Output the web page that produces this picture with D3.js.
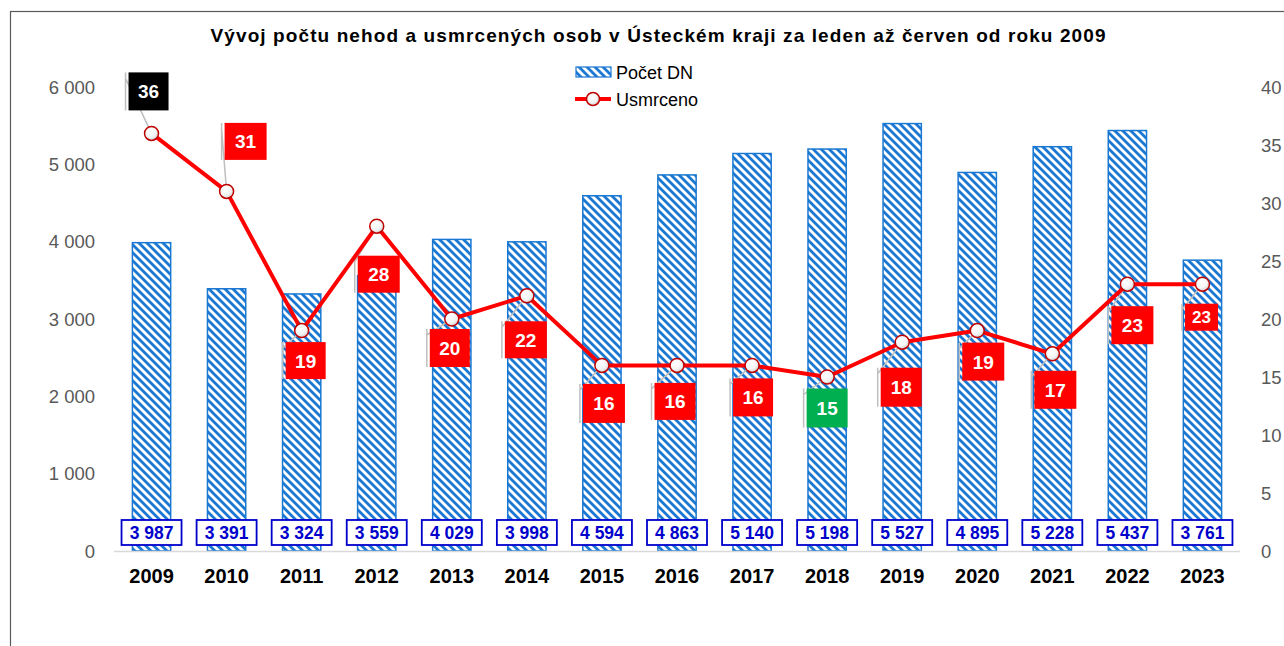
<!DOCTYPE html>
<html>
<head>
<meta charset="utf-8">
<script src="https://cdn.jsdelivr.net/npm/d3@7"></script>
<style>
  body { margin: 0; background: #fff; }
  svg { display: block; font-family: "Liberation Sans", Arial, sans-serif; }
</style>
</head>
<body>
<svg id="chart" width="1284" height="646"></svg>
<script>
// data
const years = ['2009', '2010', '2011', '2012', '2013', '2014', '2015', '2016',
  '2017', '2018', '2019', '2020', '2021', '2022', '2023'];
const accidents = [3987, 3391, 3324, 3559, 4029, 3998, 4594, 4863, 5140, 5198,
  5527, 4895, 5228, 5437, 3761];
const killed = [36, 31, 19, 28, 20, 22, 16, 16, 16, 15, 18, 19, 17, 23, 23];
const leftTicks = [0, 1000, 2000, 3000, 4000, 5000, 6000];
const rightTicks = [0, 5, 10, 15, 20, 25, 30, 35, 40];

// where each "killed" label box sits relative to its point: [dx, dy, w, h]
const labelBoxes = [
  [-3, -42, 40, 38], [19, -50, 42, 37], [4, 30, 40, 37], [2, 48, 42, 37],
  [-2, 29, 40, 38], [-1, 44, 42, 37], [2, 38, 42, 39], [-2, 36, 41, 37],
  [1, 32, 40, 38], [0, 31, 41, 39], [-1, 45, 41, 39], [6, 31, 42, 38],
  [3, 36, 42, 38], [5, 41, 42, 38], [-1, 33, 33, 27]
];

const svg = d3.select('#chart');
const plotLeft = 114, plotRight = 1240, plotTop = 87, plotBottom = 551;

// chart border (only left and top visible in the crop)
svg.append('rect')
    .attr('x', 10.5).attr('y', 11.5)
    .attr('width', 1400).attr('height', 700)
    .attr('fill', 'none')
    .attr('stroke', '#595959')
    .attr('stroke-width', 1.2);

const defs = svg.append('defs');
const pat = defs.append('pattern')
    .attr('id', 'hatch')
    .attr('patternUnits', 'userSpaceOnUse')
    .attr('width', 8).attr('height', 8);
pat.append('rect').attr('width', 8).attr('height', 8).attr('fill', '#fff');
pat.append('path')
    .attr('d', 'M-2,-2 L10,10 M-2,6 L2,10 M6,-2 L10,2')
    .attr('stroke', '#1a78d2')
    .attr('stroke-width', 2.8);

const grad = defs.append('radialGradient')
    .attr('id', 'dot').attr('cx', '40%').attr('cy', '35%').attr('r', '70%');
grad.append('stop').attr('offset', '0%').attr('stop-color', '#ffffff');
grad.append('stop').attr('offset', '60%').attr('stop-color', '#f4f4f4');
grad.append('stop').attr('offset', '100%').attr('stop-color', '#c8c8c8');

const x = d3.scaleBand().domain(years).range([plotLeft, plotRight]).padding(0);
const cx = d => x(d) + x.bandwidth() / 2;
const barW = x.bandwidth() * 0.51;

const yL = d3.scaleLinear().domain([0, 6000]).range([plotBottom, plotTop]);
const yR = d3.scaleLinear().domain([0, 40]).range([plotBottom, plotTop]);

const fmt = v => d3.format(',')(v).replace(/,/g, ' ');

// title
svg.append('text')
    .attr('x', 658).attr('y', 42)
    .attr('text-anchor', 'middle')
    .attr('font-size', 19).attr('font-weight', 'bold')
    .attr('fill', '#000')
    .attr('textLength', 895).attr('lengthAdjust', 'spacing')
    .text('Vývoj počtu nehod a usmrcených osob v Ústeckém kraji za leden až červen od roku 2009');

// left axis labels
svg.append('g').selectAll('text')
    .data(leftTicks).enter().append('text')
    .attr('x', 95).attr('y', d => yL(d) + 6.5)
    .attr('text-anchor', 'end')
    .attr('font-size', 18.5).attr('fill', '#595959')
    .text(d => fmt(d));

// right axis labels
svg.append('g').selectAll('text')
    .data(rightTicks).enter().append('text')
    .attr('x', 1261).attr('y', d => yR(d) + 6.5)
    .attr('font-size', 18.5).attr('fill', '#595959')
    .text(d => d);

// bars
const data = years.map((y, i) => ({ year: y, n: accidents[i], k: killed[i], i }));
svg.append('g').selectAll('rect')
    .data(data).enter().append('rect')
    .attr('x', d => cx(d.year) - barW / 2)
    .attr('y', d => yL(d.n))
    .attr('width', barW)
    .attr('height', d => plotBottom - yL(d.n))
    .attr('fill', 'url(#hatch)')
    .attr('stroke', '#1a78d2')
    .attr('stroke-width', 1.5);

// baseline
svg.append('line')
    .attr('x1', plotLeft).attr('x2', plotRight)
    .attr('y1', plotBottom + 0.5).attr('y2', plotBottom + 0.5)
    .attr('stroke', '#d9d9d9').attr('stroke-width', 1.5);

// bar value labels
const bl = svg.append('g').selectAll('g')
    .data(data).enter().append('g')
    .attr('transform', d => `translate(${cx(d.year)},532)`);
bl.append('rect')
    .attr('x', -30).attr('y', -12).attr('width', 60).attr('height', 25)
    .attr('fill', '#fff').attr('stroke', '#0000cc').attr('stroke-width', 1.8);
bl.append('text')
    .attr('y', 7).attr('text-anchor', 'middle')
    .attr('font-size', 17.5).attr('font-weight', 'bold').attr('fill', '#0000cc')
    .text(d => fmt(d.n));

// x labels
svg.append('g').selectAll('text')
    .data(years).enter().append('text')
    .attr('x', d => cx(d)).attr('y', 583)
    .attr('text-anchor', 'middle')
    .attr('font-size', 20).attr('font-weight', 'bold').attr('fill', '#000')
    .text(d => d);

// leader lines for the killed labels
const kMax = d3.max(killed), kMin = d3.min(killed);
const box = d => {
  const [dx, dy, w, h] = labelBoxes[d.i];
  const px = cx(d.year) + dx, py = yR(d.k) + dy;
  return { x: px - w / 2, y: py - h / 2, w, h, cx: px, cy: py };
};
const leaders = svg.append('g')
    .attr('stroke', '#bfbfbf').attr('stroke-width', 1.5).attr('fill', 'none');
data.forEach(d => {
  const b = box(d);
  const vx = b.x - 3;
  leaders.append('path')
      .attr('d', `M${cx(d.year)},${yR(d.k)} L${vx},${b.y + 6} M${vx},${b.y} L${vx},${b.y + b.h}`);
});

// line
svg.append('path')
    .datum(data)
    .attr('fill', 'none')
    .attr('stroke', '#ff0000')
    .attr('stroke-width', 4)
    .attr('stroke-linejoin', 'round')
    .attr('d', d3.line().x(d => cx(d.year)).y(d => yR(d.k)));

svg.append('g').selectAll('circle')
    .data(data).enter().append('circle')
    .attr('cx', d => cx(d.year)).attr('cy', d => yR(d.k))
    .attr('r', 7)
    .attr('fill', 'url(#dot)')
    .attr('stroke', '#c00000').attr('stroke-width', 1.5);

// killed labels
const kl = svg.append('g').selectAll('g')
    .data(data).enter().append('g');
kl.append('rect')
    .attr('x', d => box(d).x).attr('y', d => box(d).y)
    .attr('width', d => box(d).w).attr('height', d => box(d).h)
    .attr('fill', d => d.k === kMax ? '#000' : d.k === kMin ? '#00b050' : '#ff0000');
kl.append('text')
    .attr('x', d => box(d).cx).attr('y', d => box(d).cy + (box(d).h < 30 ? 6 : 7))
    .attr('text-anchor', 'middle')
    .attr('font-size', d => box(d).h < 30 ? 17 : 19)
    .attr('font-weight', 'bold').attr('fill', '#fff')
    .text(d => d.k);

// legend
const lg = svg.append('g');
lg.append('rect')
    .attr('x', 576).attr('y', 67).attr('width', 35).attr('height', 10)
    .attr('fill', 'url(#hatch)').attr('stroke', '#1a78d2').attr('stroke-width', 1.2);
lg.append('text')
    .attr('x', 616).attr('y', 79).attr('font-size', 18).attr('fill', '#000')
    .text('Počet DN');
lg.append('line')
    .attr('x1', 575).attr('x2', 611).attr('y1', 99).attr('y2', 99)
    .attr('stroke', '#ff0000').attr('stroke-width', 4);
lg.append('circle')
    .attr('cx', 593).attr('cy', 99).attr('r', 6.5)
    .attr('fill', 'url(#dot)').attr('stroke', '#c00000').attr('stroke-width', 1.5);
lg.append('text')
    .attr('x', 616).attr('y', 105.5).attr('font-size', 18).attr('fill', '#000')
    .text('Usmrceno');
</script>
</body>
</html>
